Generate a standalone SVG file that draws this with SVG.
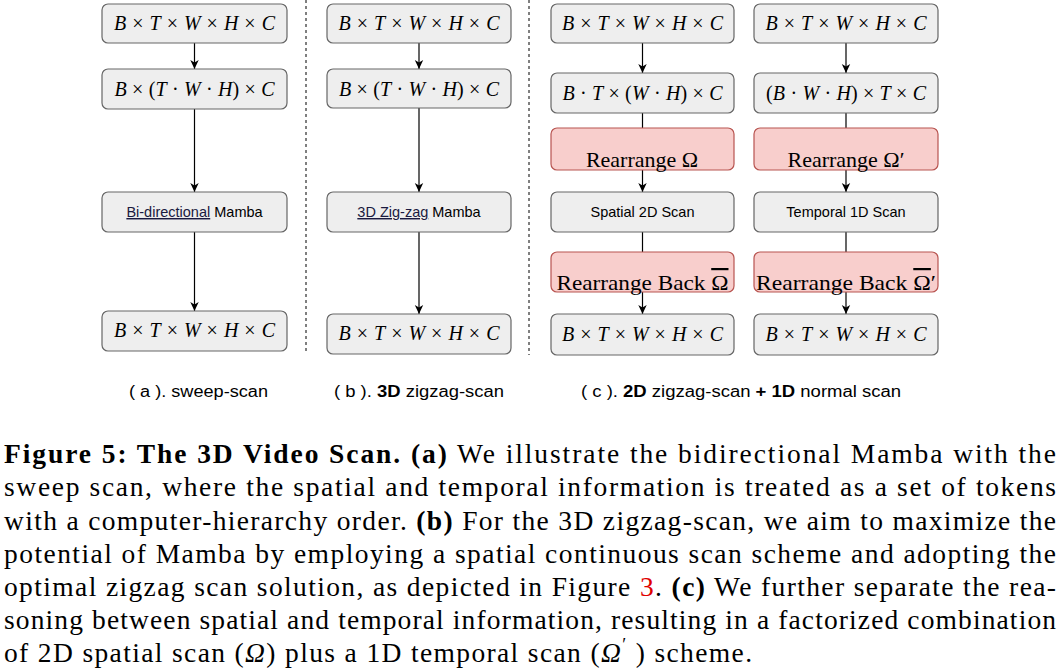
<svg xmlns="http://www.w3.org/2000/svg" width="1059" height="668" viewBox="0 0 1059 668">
<style>
.g{fill:#eeeeee;stroke:#666666;stroke-width:1.2}
.p{fill:#f8cecc;stroke:#b85450;stroke-width:1.2}
.m{font-family:"Liberation Serif",serif;font-size:20px;fill:#000}
.i{font-style:italic}
.s{font-family:"Liberation Sans",Arial,sans-serif;font-size:14.5px;fill:#000}
.r{font-family:"Liberation Serif",serif;font-size:22px;fill:#000}
.c{font-family:"Liberation Serif",serif;font-size:27.5px;fill:#000}
.b{font-weight:bold}
.cap{font-family:"Liberation Sans",Arial,sans-serif;font-size:16px;fill:#000}
.e{stroke:#000;stroke-width:1.2;fill:none}
.d{stroke:#000;stroke-width:1;stroke-dasharray:3,3}
</style>
<defs>
<marker id="ah" markerWidth="10" markerHeight="10" refX="9" refY="5" orient="auto" markerUnits="userSpaceOnUse">
<path d="M0,0.8 L9,5 L0,9.2 L2.5,5 Z" fill="#000"/>
</marker>
</defs>
<rect width="1059" height="668" fill="#fff"/>

<g id="connectors">
<line class="e" x1="194.5" y1="43" x2="194.5" y2="69" marker-end="url(#ah)"/>
<line class="e" x1="194.5" y1="109" x2="194.5" y2="192" marker-end="url(#ah)"/>
<line class="e" x1="194.5" y1="232" x2="194.5" y2="311" marker-end="url(#ah)"/>
<line class="e" x1="419" y1="43" x2="419" y2="69" marker-end="url(#ah)"/>
<line class="e" x1="419" y1="108" x2="419" y2="192" marker-end="url(#ah)"/>
<line class="e" x1="419" y1="232" x2="419" y2="314" marker-end="url(#ah)"/>
<line class="e" x1="642.5" y1="43" x2="642.5" y2="73" marker-end="url(#ah)"/>
<line class="e" x1="642.5" y1="113" x2="642.5" y2="128"/>
<line class="e" x1="642.5" y1="170" x2="642.5" y2="192" marker-end="url(#ah)"/>
<line class="e" x1="642.5" y1="232" x2="642.5" y2="252"/>
<line class="e" x1="642.5" y1="292" x2="642.5" y2="314" marker-end="url(#ah)"/>
<line class="e" x1="846" y1="43" x2="846" y2="73" marker-end="url(#ah)"/>
<line class="e" x1="846" y1="113" x2="846" y2="128"/>
<line class="e" x1="846" y1="170" x2="846" y2="192" marker-end="url(#ah)"/>
<line class="e" x1="846" y1="232" x2="846" y2="252"/>
<line class="e" x1="846" y1="292" x2="846" y2="314" marker-end="url(#ah)"/>
<line class="d" x1="306" y1="0" x2="306" y2="353"/>
<line class="d" x1="529" y1="0" x2="529" y2="355"/>
</g>

<!-- column a -->
<g id="a1"><rect class="g" x="102" y="4" width="185" height="39" rx="6"/>
<text class="m" x="194.5" y="30" text-anchor="middle" textLength="161" lengthAdjust="spacing"><tspan class="i">B</tspan> × <tspan class="i">T</tspan> × <tspan class="i">W</tspan> × <tspan class="i">H</tspan> × <tspan class="i">C</tspan></text></g>
<g id="a2"><rect class="g" x="102" y="69" width="185" height="40" rx="6"/>
<text class="m" x="194.5" y="96" text-anchor="middle" textLength="160" lengthAdjust="spacing"><tspan class="i">B</tspan> × (<tspan class="i">T</tspan> · <tspan class="i">W</tspan> · <tspan class="i">H</tspan>) × <tspan class="i">C</tspan></text></g>
<g id="a3"><rect class="g" x="102" y="192" width="185" height="40" rx="6"/>
<text class="s" x="194.5" y="217" text-anchor="middle"><tspan fill="#1a1a40" text-decoration="underline">Bi-directional</tspan> Mamba</text></g>
<g id="a4"><rect class="g" x="102" y="311" width="185" height="40" rx="6"/>
<text class="m" x="194.5" y="337" text-anchor="middle" textLength="161" lengthAdjust="spacing"><tspan class="i">B</tspan> × <tspan class="i">T</tspan> × <tspan class="i">W</tspan> × <tspan class="i">H</tspan> × <tspan class="i">C</tspan></text></g>

<!-- column b -->
<g id="b1"><rect class="g" x="327" y="4" width="184" height="39" rx="6"/>
<text class="m" x="419" y="30" text-anchor="middle" textLength="161" lengthAdjust="spacing"><tspan class="i">B</tspan> × <tspan class="i">T</tspan> × <tspan class="i">W</tspan> × <tspan class="i">H</tspan> × <tspan class="i">C</tspan></text></g>
<g id="b2"><rect class="g" x="327" y="69" width="184" height="39" rx="6"/>
<text class="m" x="419" y="96" text-anchor="middle" textLength="160" lengthAdjust="spacing"><tspan class="i">B</tspan> × (<tspan class="i">T</tspan> · <tspan class="i">W</tspan> · <tspan class="i">H</tspan>) × <tspan class="i">C</tspan></text></g>
<g id="b3"><rect class="g" x="327" y="192" width="184" height="40" rx="6"/>
<text class="s" x="419" y="217" text-anchor="middle"><tspan fill="#1a1a40" text-decoration="underline">3D Zig-zag</tspan> Mamba</text></g>
<g id="b4"><rect class="g" x="327" y="314" width="184" height="40" rx="6"/>
<text class="m" x="419" y="340" text-anchor="middle" textLength="161" lengthAdjust="spacing"><tspan class="i">B</tspan> × <tspan class="i">T</tspan> × <tspan class="i">W</tspan> × <tspan class="i">H</tspan> × <tspan class="i">C</tspan></text></g>

<!-- column c1 -->
<g id="c1"><rect class="g" x="551" y="4" width="183" height="39" rx="6"/>
<text class="m" x="642.5" y="30" text-anchor="middle" textLength="161" lengthAdjust="spacing"><tspan class="i">B</tspan> × <tspan class="i">T</tspan> × <tspan class="i">W</tspan> × <tspan class="i">H</tspan> × <tspan class="i">C</tspan></text></g>
<g id="c2"><rect class="g" x="551" y="73" width="183" height="40" rx="6"/>
<text class="m" x="642.5" y="100" text-anchor="middle" textLength="160" lengthAdjust="spacing"><tspan class="i">B</tspan> · <tspan class="i">T</tspan> × (<tspan class="i">W</tspan> · <tspan class="i">H</tspan>) × <tspan class="i">C</tspan></text></g>
<g id="c3"><rect class="p" x="551" y="128" width="183" height="42" rx="6"/>
<text class="r" x="642" y="167" text-anchor="middle">Rearrange Ω</text></g>
<g id="c4"><rect class="g" x="551" y="192" width="183" height="40" rx="6"/>
<text class="s" x="642.5" y="217" text-anchor="middle">Spatial 2D Scan</text></g>
<g id="c5"><rect class="p" x="551" y="252" width="183" height="40" rx="6"/>
<text class="r" x="642.5" y="290" text-anchor="middle" textLength="172" lengthAdjust="spacingAndGlyphs">Rearrange Back <tspan text-decoration="overline">Ω</tspan></text></g>
<g id="c6"><rect class="g" x="551" y="314" width="183" height="41" rx="6"/>
<text class="m" x="642.5" y="341" text-anchor="middle" textLength="161" lengthAdjust="spacing"><tspan class="i">B</tspan> × <tspan class="i">T</tspan> × <tspan class="i">W</tspan> × <tspan class="i">H</tspan> × <tspan class="i">C</tspan></text></g>

<!-- column c2 -->
<g id="d1"><rect class="g" x="754" y="4" width="184" height="39" rx="6"/>
<text class="m" x="846" y="30" text-anchor="middle" textLength="161" lengthAdjust="spacing"><tspan class="i">B</tspan> × <tspan class="i">T</tspan> × <tspan class="i">W</tspan> × <tspan class="i">H</tspan> × <tspan class="i">C</tspan></text></g>
<g id="d2"><rect class="g" x="754" y="73" width="184" height="40" rx="6"/>
<text class="m" x="846" y="100" text-anchor="middle" textLength="160" lengthAdjust="spacing">(<tspan class="i">B</tspan> · <tspan class="i">W</tspan> · <tspan class="i">H</tspan>) × <tspan class="i">T</tspan> × <tspan class="i">C</tspan></text></g>
<g id="d3"><rect class="p" x="754" y="128" width="184" height="42" rx="6"/>
<text class="r" x="846" y="167" text-anchor="middle">Rearrange Ω′</text></g>
<g id="d4"><rect class="g" x="754" y="192" width="184" height="40" rx="6"/>
<text class="s" x="846" y="217" text-anchor="middle">Temporal 1D Scan</text></g>
<g id="d5"><rect class="p" x="754" y="252" width="184" height="40" rx="6"/>
<text class="r" x="846" y="290" text-anchor="middle" textLength="180" lengthAdjust="spacingAndGlyphs">Rearrange Back <tspan text-decoration="overline">Ω</tspan>′</text></g>
<g id="d6"><rect class="g" x="754" y="314" width="184" height="41" rx="6"/>
<text class="m" x="846" y="341" text-anchor="middle" textLength="161" lengthAdjust="spacing"><tspan class="i">B</tspan> × <tspan class="i">T</tspan> × <tspan class="i">W</tspan> × <tspan class="i">H</tspan> × <tspan class="i">C</tspan></text></g>

<g id="subcaptions">
<text class="cap" x="129" y="397" textLength="139" lengthAdjust="spacingAndGlyphs">( a ). sweep-scan</text>
<text class="cap" x="334" y="397" textLength="170" lengthAdjust="spacingAndGlyphs">( b ). <tspan class="b">3D</tspan> zigzag-scan</text>
<text class="cap" x="581" y="397" textLength="320" lengthAdjust="spacingAndGlyphs">( c ). <tspan class="b">2D</tspan> zigzag-scan <tspan class="b">+ 1D</tspan> normal scan</text>
</g>

<g id="caption">
<text class="c" x="4" y="463" textLength="1052" lengthAdjust="spacing"><tspan class="b">Figure 5: The 3D Video Scan. (a)</tspan> We illustrate the bidirectional Mamba with the</text>
<text class="c" x="4" y="496" textLength="1052" lengthAdjust="spacing">sweep scan, where the spatial and temporal information is treated as a set of tokens</text>
<text class="c" x="4" y="529.5" textLength="1052" lengthAdjust="spacing">with a computer-hierarchy order. <tspan class="b">(b)</tspan> For the 3D zigzag-scan, we aim to maximize the</text>
<text class="c" x="4" y="562.5" textLength="1052" lengthAdjust="spacing">potential of Mamba by employing a spatial continuous scan scheme and adopting the</text>
<text class="c" x="4" y="595.5" textLength="1052" lengthAdjust="spacing">optimal zigzag scan solution, as depicted in Figure <tspan fill="#e00000">3</tspan>. <tspan class="b">(c)</tspan> We further separate the rea-</text>
<text class="c" x="4" y="628.5" textLength="1052" lengthAdjust="spacing">soning between spatial and temporal information, resulting in a factorized combination</text>
<text class="c" x="4" y="661.5" textLength="748" lengthAdjust="spacing">of 2D spatial scan (<tspan class="i">Ω</tspan>) plus a 1D temporal scan (<tspan class="i">Ω</tspan><tspan font-size="18" dy="-11">′</tspan><tspan dy="11"> ) scheme.</tspan></text>
</g>
</svg>
